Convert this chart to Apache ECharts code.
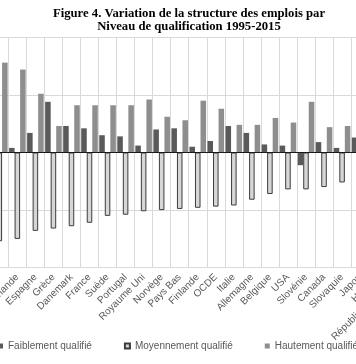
<!DOCTYPE html>
<html>
<head>
<meta charset="utf-8">
<script src="https://cdn.jsdelivr.net/npm/echarts@6/dist/echarts.min.js"></script>
<style>
html,body{margin:0;padding:0;background:#fff;}
#chart{width:356px;height:364px;}
</style>
</head>
<body>
<div id="chart"></div>
<script>
const titleLines = ["Figure 4. Variation de la structure des emplois par", "Niveau de qualification 1995-2015"];
const categories = ["Autriche", "Irlande", "Espagne", "Grèce", "Danemark", "France", "Suède", "Portugal", "Royaume Uni", "Norvège", "Pays Bas", "Finlande", "OCDE", "Italie", "Allemagne", "Belgique", "USA", "Slovénie", "Canada", "Slovaquie", "Japon", "Hongrie", "République tchèque"];
const seriesNames = ["Faiblement qualifié", "Moyennement qualifié", "Hautement qualifié"];
const faible = [-0.1, 0.4, 1.7, 4.4, 2.3, 2.1, 1.5, 1.4, 0.6, 2.0, 2.1, 0.5, 1.0, 2.3, 1.7, 0.7, 0.6, -1.1, 0.9, 0.4, 1.3, 1.0, 0.6];
const moyen = [-7.7, -7.5, -6.8, -6.6, -6.4, -6.1, -5.5, -5.4, -5.1, -5.0, -4.9, -4.8, -4.7, -4.6, -4.1, -3.6, -3.2, -3.2, -3.0, -2.6, -2.4, -2.2, -1.9];
const haut = [7.8, 7.2, 5.1, 2.3, 4.1, 4.1, 4.1, 4.1, 4.6, 3.1, 2.8, 4.5, 3.8, 2.4, 2.4, 3.0, 2.6, 4.4, 2.2, 2.3, 1.1, 1.2, 1.3];
const yMin = -10, yMax = 10, yStep = 5;

const chart = echarts.init(document.getElementById('chart'), null, {renderer: 'canvas'});
const font = 'Liberation Sans, Arial, sans-serif';
chart.setOption({
  animation: false,
  backgroundColor: '#ffffff',
  title: {
    text: titleLines.join('\n'),
    left: 189,
    top: 7,
    padding: 0,
    textAlign: 'center',
    textStyle: {fontFamily: 'Liberation Serif, Times New Roman, serif', fontWeight: 'bold', fontSize: 12.7, lineHeight: 13, color: '#000'}
  },
  legend: {
    data: seriesNames,
    left: -2,
    top: 341,
    padding: 0,
    width: 600,
    orient: 'horizontal',
    icon: 'rect',
    itemWidth: 5,
    itemHeight: 5,
    itemGap: 32,
    textStyle: {fontFamily: font, fontSize: 10, color: '#595959'}
  },
  grid: {left: -9.7, right: -49.2, top: 37.3, bottom: 96.3, outerBoundsMode: 'none', containLabel: false},
  xAxis: {
    type: 'category',
    data: categories,
    axisLine: {show: false, onZero: false},
    axisTick: {show: false},
    axisLabel: {interval: 0, rotate: 45, margin: 8, fontFamily: font, fontSize: 10, color: '#595959'},
    splitLine: {show: true, interval: 0, lineStyle: {color: '#d9d9d9', width: 1}}
  },
  yAxis: {
    type: 'value',
    min: yMin, max: yMax, interval: yStep,
    axisLine: {show: false},
    axisTick: {show: false},
    axisLabel: {show: false},
    splitLine: {show: true, lineStyle: {color: '#d9d9d9', width: 1}}
  },
  series: [
    {name: seriesNames[0], type: 'bar', data: faible, barGap: '0%', barCategoryGap: '8%',
     itemStyle: {color: '#5a5a5a'}},
    {name: seriesNames[1], type: 'bar', data: moyen, barGap: '0%', barCategoryGap: '8%',
     itemStyle: {color: '#d6d6d6', borderColor: '#3c3c3c', borderWidth: 1}},
    {name: seriesNames[2], type: 'bar', data: haut, barGap: '0%', barCategoryGap: '8%',
     itemStyle: {color: '#8e8e8e'},
     markLine: {silent: true, symbol: ['none', 'none'], label: {show: false},
       lineStyle: {color: '#1a1a1a', width: 1.2, type: 'solid'}, data: [{yAxis: 0}]}}
  ]
});
</script>
</body>
</html>
